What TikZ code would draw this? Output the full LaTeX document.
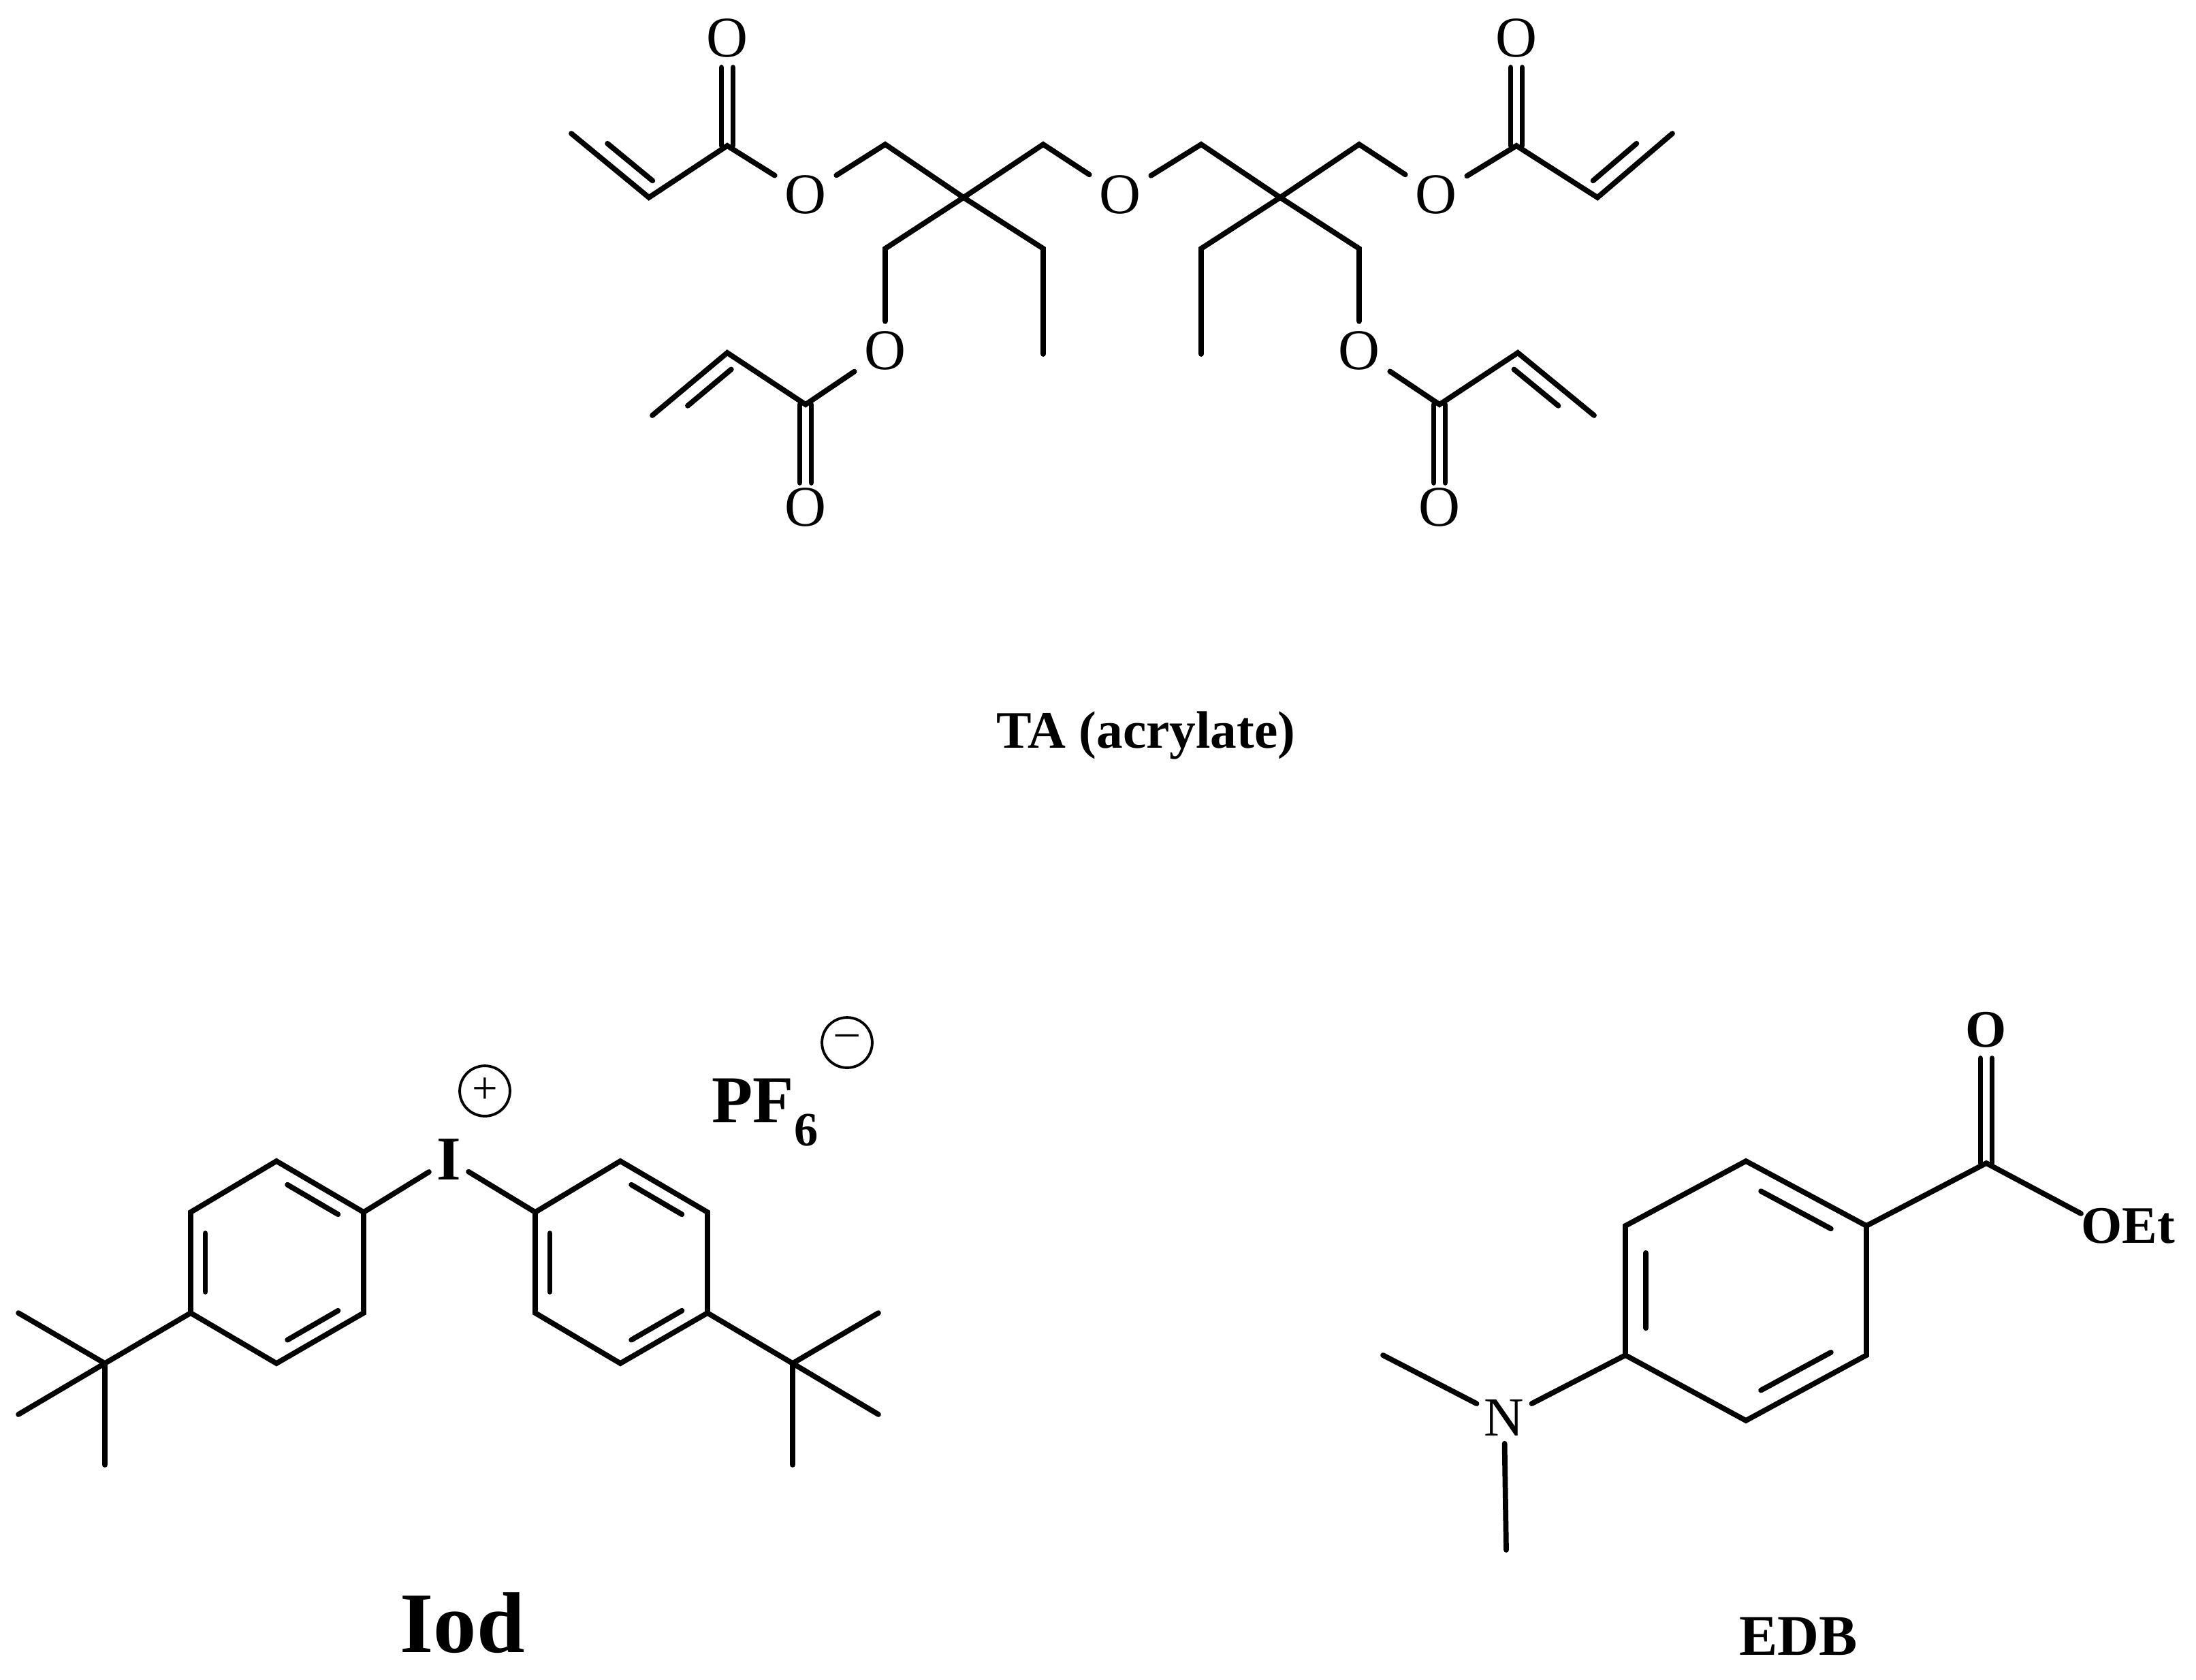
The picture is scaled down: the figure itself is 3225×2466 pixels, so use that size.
\documentclass[tikz,border=0pt]{standalone}
\usepackage{fontspec}
\setmainfont{Liberation Serif}
\usetikzlibrary{calc}
\tikzset{bond/.style={line width=2.2pt,line cap=round,line join=miter},
 atom/.style={inner sep=4pt,font=\fontsize{24}{24}\selectfont},
 batom/.style={inner sep=4pt,font=\fontsize{22}{22}\selectfont\bfseries},
 chg/.style={circle,draw,line width=1.1pt,minimum size=21pt,inner sep=0pt,font=\fontsize{19}{19}\selectfont}}
\newcommand\cdbl[2]{\draw[bond] ($(#1)!2.4pt!90:(#2)$) -- ($(#2)!2.4pt!-90:(#1)$);
 \draw[bond] ($(#1)!2.4pt!-90:(#2)$) -- ($(#2)!2.4pt!90:(#1)$);}
\newcommand\rdb[3]{\draw[bond] ($($(#1)!0.15!(#2)$)!0.17!(#3)$) -- ($($(#1)!0.85!(#2)$)!0.17!(#3)$);}
\begin{document}
\begin{tikzpicture}[x=0.01cm,y=-0.01cm]
\useasboundingbox (0,0) rectangle (3225,2466);
% ---------- TA ----------
\coordinate (v1) at (839,196); \coordinate (v2) at (953,290); \coordinate (c1) at (1068,214);
\coordinate (o1t) at (1068,99); \node[atom] (O1) at (1068,56) {O};
\node[atom] (O2) at (1183,286) {O};
\coordinate (m1) at (1300,212); \coordinate (q1) at (1415,290); \coordinate (m2) at (1532,212);
\node[atom] (O3) at (1645,286) {O};
\coordinate (m3) at (1764,212); \coordinate (q2) at (1880,290); \coordinate (m4) at (1996,212);
\node[atom] (O4) at (2109,286) {O};
\coordinate (c2) at (2227,214); \coordinate (o2t) at (2227,99); \node[atom] (O5) at (2227,56) {O};
\coordinate (v3) at (2346,290); \coordinate (v4) at (2456,196);
\coordinate (m5) at (1300,365); \node[atom] (O6) at (1300,515) {O};
\coordinate (e1) at (1532,365); \coordinate (e2) at (1532,520);
\coordinate (e3) at (1764,365); \coordinate (e4) at (1764,520);
\coordinate (m7) at (1996,365); \node[atom] (O7) at (1996,515) {O};
\coordinate (c3) at (1183,594); \coordinate (o3b) at (1183,709); \node[atom] (O8) at (1183,745) {O};
\coordinate (v5) at (1068,518); \coordinate (v6) at (958,610);
\coordinate (c4) at (2114,594); \coordinate (o4b) at (2114,709); \node[atom] (O9) at (2114,745) {O};
\coordinate (v7) at (2229,518); \coordinate (v8) at (2341,610);
\draw[bond] (v1) -- (v2) -- (c1) -- (O2) -- (m1) -- (q1) -- (m2) -- (O3) -- (m3) -- (q2) -- (m4) -- (O4) -- (c2) -- (v3) -- (v4);
\draw[bond] (q1) -- (m5) -- (O6) -- (c3) -- (v5) -- (v6);
\draw[bond] (q1) -- (e1) -- (e2);
\draw[bond] (q2) -- (e3) -- (e4);
\draw[bond] (q2) -- (m7) -- (O7) -- (c4) -- (v7) -- (v8);
\cdbl{c1}{o1t} \cdbl{c2}{o2t} \cdbl{c3}{o3b} \cdbl{c4}{o4b}
\rdb{v1}{v2}{c1} \rdb{v4}{v3}{c2} \rdb{v6}{v5}{c3} \rdb{v8}{v7}{c4}
\node[font=\fontsize{22}{22}\selectfont\bfseries] (ta) at (1683,1080) {TA (acrylate)};
% ---------- Iod ----------
\node[inner sep=3pt,font=\fontsize{26}{26}\selectfont\bfseries] (I) at (659,1703) {I};
\node[chg] (plus) at (712,1602) {+};
\node[anchor=base west,inner sep=0pt,font=\fontsize{28}{28}\selectfont\bfseries] (pf) at (1045,1648) {PF\raisebox{-0.35em}{\fontsize{20}{20}\selectfont 6}};
\node[chg] (minus) at (1244,1531) {\raisebox{0.1em}{\textendash}};
\coordinate (a1) at (406,1705); \coordinate (a2) at (534,1780); \coordinate (a3) at (534,1928);
\coordinate (a4) at (406,2002); \coordinate (a5) at (280,1928); \coordinate (a6) at (280,1780);
\coordinate (ac) at (407,1854);
\coordinate (b1) at (911,1705); \coordinate (b2) at (786,1780); \coordinate (b3) at (786,1928);
\coordinate (b4) at (911,2002); \coordinate (b5) at (1039,1928); \coordinate (b6) at (1039,1780);
\coordinate (bc) at (912,1854);
\draw[bond] (a1) -- (a2) -- (a3) -- (a4) -- (a5) -- (a6) -- cycle;
\draw[bond] (b1) -- (b2) -- (b3) -- (b4) -- (b5) -- (b6) -- cycle;
\rdb{a1}{a2}{ac} \rdb{a3}{a4}{ac} \rdb{a5}{a6}{ac}
\rdb{b1}{b6}{bc} \rdb{b4}{b5}{bc} \rdb{b2}{b3}{bc}
\draw[bond] (a2) -- (I) -- (b2);
\coordinate (tq1) at (154,2002); \coordinate (t11) at (27,1928); \coordinate (t12) at (27,2077); \coordinate (t13) at (154,2151);
\coordinate (tq2) at (1164,2002); \coordinate (t21) at (1290,1928); \coordinate (t22) at (1290,2077); \coordinate (t23) at (1164,2151);
\draw[bond] (a5) -- (tq1) -- (t11); \draw[bond] (tq1) -- (t12); \draw[bond] (tq1) -- (t13);
\draw[bond] (b5) -- (tq2) -- (t21); \draw[bond] (tq2) -- (t22); \draw[bond] (tq2) -- (t23);
\node[font=\fontsize{36}{36}\selectfont\bfseries] (iod) at (679,2383) {Iod};
% ---------- EDB ----------
\coordinate (d1) at (2564,1705); \coordinate (d2) at (2741,1800); \coordinate (d3) at (2741,1990);
\coordinate (d4) at (2564,2086); \coordinate (d5) at (2387,1990); \coordinate (d6) at (2387,1800);
\coordinate (dc) at (2564,1895);
\draw[bond] (d1) -- (d2) -- (d3) -- (d4) -- (d5) -- (d6) -- cycle;
\rdb{d1}{d2}{dc} \rdb{d3}{d4}{dc} \rdb{d5}{d6}{dc}
\coordinate (cc) at (2917,1708); \coordinate (cot) at (2917,1554);
\node[batom,inner sep=0pt] (Oe) at (2917,1512) {O};
\node[batom,inner sep=0pt] (OEt) at (3125,1800) {OEt};
\coordinate (oeb) at (3056,1782);
\draw[bond] (d2) -- (cc) -- (oeb);
\cdbl{cc}{cot}
\node[atom,inner sep=3pt,font=\fontsize{23}{23}\selectfont] (N) at (2209,2082) {N};
\coordinate (nm1) at (2031,1990); \coordinate (nm2) at (2212,2276);
\draw[bond] (d5) -- (N); \draw[bond] (nm1) -- (N); \draw[bond] (N) -- (nm2);
\node[font=\fontsize{24}{24}\selectfont\bfseries] (edb) at (2641,2403) {EDB};
\end{tikzpicture}
\end{document}
